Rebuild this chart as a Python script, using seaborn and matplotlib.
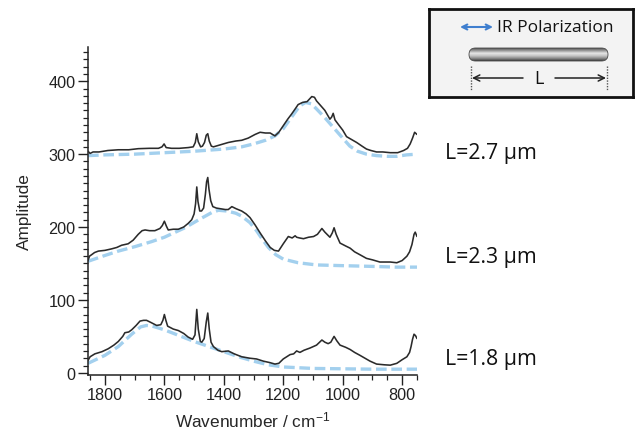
import matplotlib

matplotlib.use("Agg")

import matplotlib.pyplot as plt
from matplotlib.colors import LinearSegmentedColormap
from matplotlib.patches import FancyBboxPatch
from matplotlib.ticker import MultipleLocator
import numpy as np
import pandas as pd
import seaborn as sns

# ---- data -----------------------------------------------------------------
top_wn = [1857, 1850, 1840, 1820, 1790, 1755, 1720, 1688, 1650, 1620,
          1608, 1601, 1594, 1576, 1550, 1520, 1503, 1496, 1491, 1486,
          1478, 1472, 1465, 1459, 1454, 1449, 1442, 1435, 1410, 1385,
          1360, 1340, 1318, 1295, 1278, 1260, 1244, 1228, 1215, 1200,
          1185, 1172, 1160, 1150, 1135, 1120, 1104, 1095, 1088, 1075,
          1060, 1043, 1037, 1032, 1026, 1015, 1000, 987, 970, 953,
          935, 920, 905, 886, 865, 840, 815, 795, 782, 773,
          765, 758, 750]
top_amp = [304, 301, 303, 303, 305, 306, 306, 307.5, 308, 308,
           310, 314, 309, 308, 308, 309, 310, 316, 328, 317,
           310, 311, 316, 326, 328, 318, 311, 310, 313, 316,
           318, 319, 322, 327, 330, 329, 329, 325, 330, 339,
           348, 355, 362, 368, 371, 372, 379, 378, 373, 367,
           360, 348, 351, 356, 347, 341, 333, 324, 320, 316,
           311, 307, 305, 303, 303, 302, 302, 305, 308, 314,
           322, 330, 327]
top_fit_wn = [1857, 1800, 1700, 1600, 1500, 1400, 1340, 1300, 1260, 1228,
              1200, 1170, 1145, 1125, 1105, 1088, 1060, 1030, 1000, 976,
              950, 920, 886, 850, 818, 785, 750]
top_fit = [298, 299, 300, 302, 304, 307, 310, 314, 319, 325,
           335, 352, 366, 371, 369, 362, 350, 336, 322, 311,
           304, 300, 298, 297, 297, 299, 300]

mid_wn = [1857, 1852, 1845, 1835, 1822, 1800, 1778, 1760, 1744, 1722,
          1705, 1688, 1675, 1665, 1650, 1632, 1615, 1607, 1600, 1593,
          1587, 1570, 1553, 1535, 1520, 1508, 1500, 1495, 1491, 1487,
          1481, 1475, 1468, 1462, 1458, 1454, 1450, 1444, 1437, 1425,
          1410, 1395, 1385, 1373, 1358, 1340, 1325, 1312, 1295, 1278,
          1260, 1244, 1230, 1216, 1200, 1183, 1170, 1160, 1155, 1145,
          1132, 1115, 1098, 1085, 1070, 1060, 1043, 1035, 1029, 1022,
          1009, 990, 975, 960, 942, 920, 900, 875, 858, 840,
          818, 800, 784, 775, 767, 760, 756, 750]
mid_amp = [154, 160, 162, 165, 167, 168, 170, 172, 175, 177,
           182, 190, 195, 196, 195, 195, 198, 202, 208, 201,
           196, 197, 197, 200, 205, 210, 218, 232, 255, 235,
           222, 222, 226, 245, 262, 268, 252, 236, 228, 226,
           225, 224, 224, 228, 225, 222, 218, 213, 203, 192,
           181, 172, 168, 167, 177, 187, 185, 188, 186, 185,
           184, 186, 187, 190, 198, 193, 186, 192, 199, 190,
           178, 174, 171, 166, 162, 157, 155, 152, 152, 152,
           151, 154, 160, 166, 176, 190, 193, 187]
mid_fit_wn = [1857, 1800, 1755, 1700, 1643, 1600, 1531, 1480, 1440, 1418,
              1390, 1360, 1340, 1312, 1290, 1270, 1250, 1225, 1200, 1150,
              1088, 1000, 900, 820, 760, 750]
mid_fit = [153, 161, 167, 173, 180, 186, 199, 211, 220, 223,
           222, 219, 215, 206, 195, 183, 172, 162, 156, 151,
           148, 147, 146, 145, 145, 145]

bot_wn = [1857, 1850, 1834, 1810, 1789, 1770, 1755, 1740, 1733, 1720,
          1710, 1695, 1682, 1670, 1660, 1645, 1626, 1612, 1605, 1600,
          1595, 1589, 1570, 1553, 1535, 1520, 1505, 1497, 1491, 1486,
          1479, 1474, 1466, 1459, 1454, 1449, 1443, 1435, 1420, 1407,
          1385, 1365, 1340, 1312, 1290, 1267, 1245, 1228, 1215, 1200,
          1177, 1165, 1155, 1144, 1130, 1110, 1088, 1070, 1060, 1049,
          1040, 1029, 1020, 1009, 990, 975, 960, 942, 925, 908,
          886, 860, 840, 818, 800, 784, 775, 770, 765, 760,
          755, 750]
bot_amp = [17, 22, 26, 29, 33, 38, 43, 50, 55, 56,
           59, 65, 71, 72, 72, 69, 65, 66, 72, 80,
           72, 64, 60, 58, 54, 49, 46, 52, 87, 60,
           43, 42, 47, 70, 82, 60, 42, 36, 31, 29,
           30, 26, 22, 20, 19, 16, 14, 12, 13, 19,
           25, 26, 30, 28, 31, 34, 38, 45, 42, 40,
           42, 50, 44, 38, 35, 32, 28, 24, 20, 16,
           12, 11, 10.5, 13, 18, 22, 28, 36, 46, 53,
           51, 47]
bot_fit_wn = [1857, 1800, 1755, 1710, 1680, 1660, 1640, 1600, 1550, 1500,
              1450, 1400, 1350, 1300, 1250, 1200, 1150, 1100, 1000, 900,
              800, 750]
bot_fit = [13, 24, 36, 53, 63, 65, 64, 59, 51, 43,
           36, 29, 22, 16, 11, 8, 7, 6, 5.5, 5,
           5, 5]

lengths = ["L=2.7 μm", "L=2.3 μm", "L=1.8 μm"]
x_ticks = [1800, 1600, 1400, 1200, 1000, 800]
y_ticks = [0, 100, 200, 300, 400]

# ---- style ---------------------------------------------------------------
sns.set_style("ticks")
plt.rcParams.update({
    "font.family": ["Liberation Sans", "DejaVu Sans"],
    "mathtext.default": "regular",
    "axes.linewidth": 1.1,
    "axes.edgecolor": "#222222",
    "xtick.color": "#222222",
    "ytick.color": "#222222",
    "xtick.major.size": 7,
    "ytick.major.size": 7,
    "xtick.minor.size": 3.6,
    "ytick.minor.size": 3.6,
    "xtick.major.width": 1.0,
    "ytick.major.width": 1.0,
    "xtick.minor.width": 0.9,
    "ytick.minor.width": 0.9,
    "xtick.labelsize": 11.7,
    "ytick.labelsize": 11.7,
})

SPEC = "#2b2b2b"
FIT = "#a3d0ee"
LABEL_FONT = ["Open Sans", "DejaVu Sans"]

fig = plt.figure(figsize=(6.37, 4.35), dpi=100)
ax = fig.add_axes([88 / 637, 59 / 435, 329 / 637, 328 / 435])

traces = [
    (top_wn, top_amp, top_fit_wn, top_fit),
    (mid_wn, mid_amp, mid_fit_wn, mid_fit),
    (bot_wn, bot_amp, bot_fit_wn, bot_fit),
]
for wn, amp, fwn, fit in traces:
    fit_df = pd.DataFrame({"wn": fwn, "amp": fit})
    spec_df = pd.DataFrame({"wn": wn, "amp": amp})
    sns.lineplot(data=fit_df, x="wn", y="amp", ax=ax, color=FIT, lw=2.4,
                 linestyle=(0, (3.2, 1.4)), sort=False, estimator=None, zorder=2)
    sns.lineplot(data=spec_df, x="wn", y="amp", ax=ax, color=SPEC, lw=1.15,
                 sort=False, estimator=None, zorder=3)

ax.set_xlim(1857, 750)
ax.set_ylim(-3, 447)
ax.set_xticks(x_ticks)
ax.set_yticks(y_ticks)
ax.xaxis.set_minor_locator(MultipleLocator(50))
ax.yaxis.set_minor_locator(MultipleLocator(10))
ax.tick_params(which="both", direction="out", pad=2)
ax.set_xlabel("Wavenumber / cm$^{-1}$", fontsize=12.4, labelpad=5)
ax.set_ylabel("Amplitude", fontsize=12.4, labelpad=12)
sns.despine(ax=ax)

for label, ypix in zip(lengths, [153, 257, 360]):
    fig.text(445 / 637, 1 - ypix / 435, label, fontsize=15.3, va="center",
             ha="left", family=LABEL_FONT, color="#111111")

# ---- inset legend box (pixel coordinates inside the box) -----------------
ins = fig.add_axes([429 / 637, 1 - 98 / 435, 204 / 637, 88 / 435])
ins.set_facecolor("#f3f3f3")
ins.set_xticks([])
ins.set_yticks([])
for sp in ins.spines.values():
    sp.set_visible(True)
    sp.set_linewidth(2)
    sp.set_edgecolor("#111111")

ins.annotate("", xy=(31, 18), xytext=(64, 18),
             arrowprops=dict(arrowstyle="<->", color="#3f7fcf", lw=1.5,
                             shrinkA=0, shrinkB=0, mutation_scale=9))
ins.text(68, 18, "IR Polarization", fontsize=12.5, va="center", ha="left",
         family=LABEL_FONT, color="#111111")

rod = FancyBboxPatch((40, 39), 139, 13, boxstyle="round,pad=0,rounding_size=6.5",
                     facecolor="none", edgecolor="#4a4a4a", lw=0.6, zorder=4)
ins.add_patch(rod)
shade = LinearSegmentedColormap.from_list(
    "rod", ["#555555", "#9a9a9a", "#e6e6e6", "#c4c4c4", "#8a8a8a", "#3c3c3c"])
img = ins.imshow(np.linspace(0, 1, 60).reshape(-1, 1), cmap=shade, aspect="auto",
                 extent=(40, 179, 52, 39), zorder=3)
img.set_clip_path(rod)
ins.set_xlim(0, 204)
ins.set_ylim(88, 0)

for xv in (42, 178):
    ins.plot([xv, xv], [57, 82], color="#555555", lw=1.0, linestyle=(0, (1, 1)))
ins.annotate("", xy=(43, 69), xytext=(94, 69),
             arrowprops=dict(arrowstyle="->", color="#222222", lw=1.1,
                             shrinkA=0, shrinkB=0, mutation_scale=11))
ins.annotate("", xy=(177, 69), xytext=(126, 69),
             arrowprops=dict(arrowstyle="->", color="#222222", lw=1.1,
                             shrinkA=0, shrinkB=0, mutation_scale=11))
ins.text(110, 69, "L", fontsize=13, va="center", ha="center",
         family=LABEL_FONT, color="#111111")

fig.savefig("out.png", dpi=100)
